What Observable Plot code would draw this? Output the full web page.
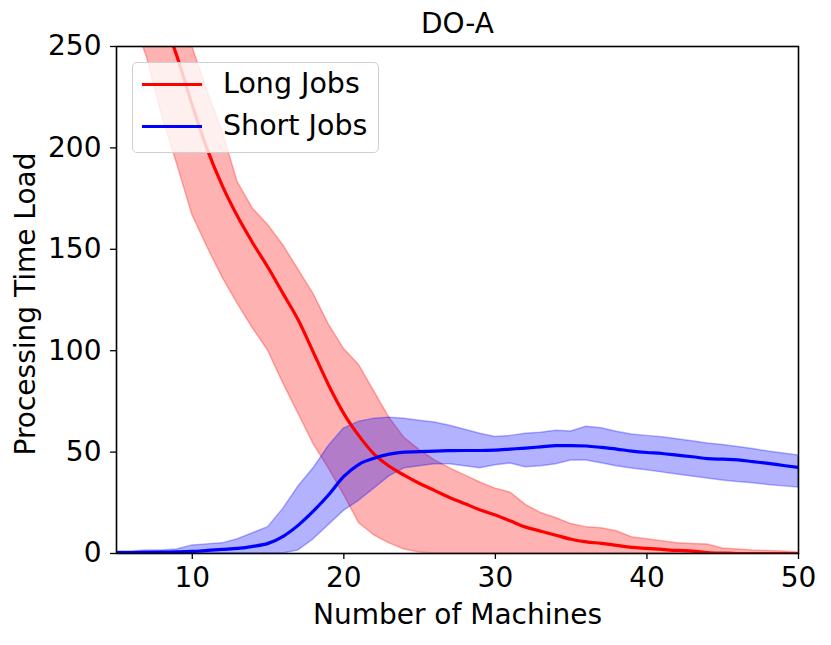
<!DOCTYPE html>
<html>
<head>
<meta charset="utf-8">
<script src="https://cdn.jsdelivr.net/npm/d3@7"></script>
<script src="https://cdn.jsdelivr.net/npm/@observablehq/plot@0.6"></script>
<style>
  html, body { margin: 0; padding: 0; background: #fff; }
  #wrap { position: relative; width: 831px; height: 645px; font-family: "DejaVu Sans", sans-serif; }
  #wrap svg text { font-size: 28px; fill: #000; }
  #legend {
    position: absolute; left: 132px; top: 62px; width: 247px; height: 91px;
    background: rgba(255,255,255,0.8); border: 1.3px solid #d0d0d0; border-radius: 5px;
    box-sizing: border-box;
  }
  .item { position: absolute; left: 9px; height: 30px; line-height: 30px; display: flex; align-items: center; font-size: 28.5px; color: #000; white-space: nowrap; }
  .sw { width: 60px; height: 0; border-top: 3px solid; margin-right: 21px; }
</style>
</head>
<body>
<div id="wrap"></div>
<script>
const titleText = "DO-A";
const xLabel = "Number of Machines";
const yLabel = "Processing Time Load";
const seriesNames = ["Long Jobs", "Short Jobs"];
const seriesColors = ["red", "blue"];
const xTicks = [10, 20, 30, 40, 50];
const yTicks = [0, 50, 100, 150, 200, 250];

const machines = d3.range(5, 51);
const longMean = [330,305,285,265,245,221,199,181,166,153,141,128,115,99,83,69,58,49,43,38.5,34.5,31,27.5,24.5,21.5,19,16,13,11,9,7,5.7,5,4,3,2.5,2,1.5,1.2,0.5,0.2,0,0,0,0,0];
const longLo   = [290,265,245,216,192,167,151,136,123,111,100,84,69,54,42,29,15,9,5,2,0.5,0,0,0,0,0,0,0,0,0,0,0,0,0,0,0,0,0,0,0,0,0,0,0,0,0];
const longHi   = [400,370,340,310,280,250,228,208,183,170,162,152,140,128,113,101,93,80,67,57,51,46,42,38.5,35,32,30,24,20,17.5,14.5,13,12.5,11,8,7,6,5,4.7,4.4,2.5,2,1.5,1.2,1,0.5];
const shortMean = [0.5,0.5,0.6,0.7,0.8,1,1.5,2,2.5,3.5,5,8.5,14,21,29,38,44,47,49,50,50.2,50.5,50.7,50.8,50.8,51,51.5,52,52.6,53.2,53.2,53,52.3,51.5,50.5,49.8,49.3,48.5,47.7,46.8,46.5,46.2,45.3,44.4,43.4,42.4];
const shortLo   = [0,0,0,0,0,0,0,0,0,0,0,0,1.5,7,14,21,26,32,38,42,43,44,44,43,42,43.5,44.4,42.5,43,44,45.9,45.9,44.5,43,41.9,41,40,39,38,37,36,35.2,34.6,33.8,33.1,32.5];
const shortHi   = [1,1,1.5,1.5,2,4,4.5,5,7,10,13,22,33,42,53,61.6,65,66.5,67,66.5,65.5,64.6,63,61,59,57.5,58,59,59.5,60.5,60.2,62.5,61.8,60,58.7,58,57.3,56.3,55.3,54.2,53.5,52.5,51.5,50.3,49.3,48.3];

const rows = [];
machines.forEach((m, i) => {
  rows.push({x: m, mean: longMean[i], lo: longLo[i], hi: longHi[i], s: seriesNames[0]});
  rows.push({x: m, mean: shortMean[i], lo: shortLo[i], hi: shortHi[i], s: seriesNames[1]});
});
const longRows = rows.filter(d => d.s === seriesNames[0]);
const shortRows = rows.filter(d => d.s === seriesNames[1]);

const chart = Plot.plot({
  width: 831,
  height: 645,
  marginLeft: 116,
  marginRight: 33,
  marginTop: 46,
  marginBottom: 92,
  style: {fontFamily: "DejaVu Sans, sans-serif", fontSize: "28px", color: "#000", background: "#fff"},
  x: {domain: [5, 50], ticks: xTicks},
  y: {domain: [0, 250], ticks: yTicks},
  marks: [
    Plot.areaY(longRows, {x: "x", y1: "lo", y2: "hi", fill: seriesColors[0], fillOpacity: 0.3, stroke: seriesColors[0], strokeOpacity: 0.3, strokeWidth: 1.5, clip: true}),
    Plot.areaY(shortRows, {x: "x", y1: "lo", y2: "hi", fill: seriesColors[1], fillOpacity: 0.3, stroke: seriesColors[1], strokeOpacity: 0.3, strokeWidth: 1.5, clip: true}),
    Plot.lineY(longRows, {x: "x", y: "mean", stroke: seriesColors[0], strokeWidth: 3.2, curve: "monotone-x", clip: true}),
    Plot.lineY(shortRows, {x: "x", y: "mean", stroke: seriesColors[1], strokeWidth: 3.2, curve: "monotone-x", clip: true}),
    Plot.frame({stroke: "#000", strokeWidth: 1.6}),
    Plot.axisX({ticks: xTicks, tickSize: 6, tickPadding: 8, label: null, stroke: "#000", strokeWidth: 1.3}),
    Plot.axisY({ticks: yTicks, tickSize: 6, tickPadding: 9, label: null, stroke: "#000", strokeWidth: 1.3}),
    Plot.text([xLabel], {frameAnchor: "bottom", lineAnchor: "middle", textAnchor: "middle", dy: 62, text: d => d}),
    Plot.text([yLabel], {frameAnchor: "left", lineAnchor: "middle", textAnchor: "middle", dx: -90, dy: 4, rotate: -90, text: d => d}),
    Plot.text([titleText], {frameAnchor: "top", lineAnchor: "middle", textAnchor: "middle", dy: -22, text: d => d})
  ]
});

const wrap = document.getElementById("wrap");
wrap.appendChild(chart);

const legend = document.createElement("div");
legend.id = "legend";
seriesNames.forEach((name, i) => {
  const item = document.createElement("div");
  item.className = "item";
  item.style.top = (6 + i * 42) + "px";
  const sw = document.createElement("span");
  sw.className = "sw";
  sw.style.borderTopColor = seriesColors[i];
  const t = document.createElement("span");
  t.textContent = name;
  item.appendChild(sw);
  item.appendChild(t);
  legend.appendChild(item);
});
wrap.appendChild(legend);
</script>
</body>
</html>
